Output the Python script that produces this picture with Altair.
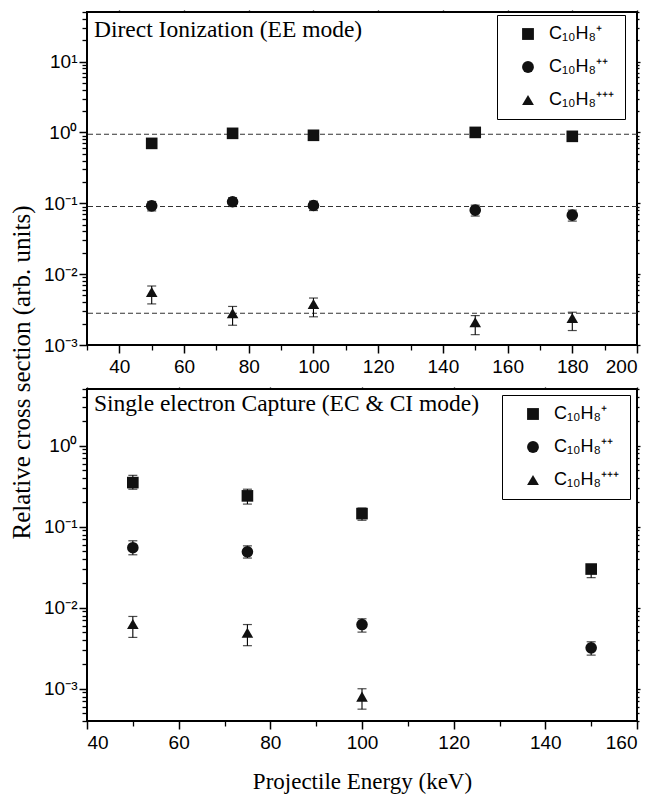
import altair as alt
import pandas as pd

SANS = "Liberation Sans"
SERIF = "Liberation Serif"

IONS = ["C₁₀H₈⁺", "C₁₀H₈⁺⁺", "C₁₀H₈⁺⁺⁺"]
SHAPES = ["square", "circle", "triangle-up"]

# ---------------- Direct Ionization (EE mode) ----------------
ee_energy = [50, 75, 100, 150, 180]
ee_single = [0.70, 0.97, 0.91, 1.00, 0.88]
ee_single_lo = [0.67, 0.93, 0.87, 0.96, 0.84]
ee_single_hi = [0.73, 1.01, 0.95, 1.04, 0.92]
ee_double = [0.092, 0.105, 0.093, 0.080, 0.068]
ee_double_lo = [0.078, 0.090, 0.079, 0.066, 0.056]
ee_double_hi = [0.106, 0.120, 0.107, 0.094, 0.080]
ee_triple = [0.0056, 0.0028, 0.0038, 0.0021, 0.0024]
ee_triple_lo = [0.0038, 0.0019, 0.0025, 0.0014, 0.0016]
ee_triple_hi = [0.0068, 0.0035, 0.0046, 0.0026, 0.0029]
ee_levels = [0.94, 0.09, 0.0028]

# ---------------- Single electron Capture (EC & CI mode) ----------------
ec_energy = [50, 75, 100, 150]
ec_single = [0.35, 0.24, 0.145, 0.030]
ec_single_lo = [0.29, 0.19, 0.12, 0.0235]
ec_single_hi = [0.43, 0.29, 0.17, 0.034]
ec_double = [0.055, 0.049, 0.0062, 0.0032]
ec_double_lo = [0.045, 0.041, 0.0050, 0.0026]
ec_double_hi = [0.067, 0.058, 0.0073, 0.0038]
ec_triple_energy = [50, 75, 100]
ec_triple = [0.0063, 0.0049, 0.00080]
ec_triple_lo = [0.0043, 0.0034, 0.00056]
ec_triple_hi = [0.0078, 0.0062, 0.0010]

top_x_major = [40, 60, 80, 100, 120, 140, 160, 180, 200]
top_x_minor = [30, 50, 70, 90, 110, 130, 150, 170, 190]
bot_x_major = [40, 60, 80, 100, 120, 140, 160]
bot_x_minor = [50, 70, 90, 110, 130, 150]
top_y_major = [1e-3, 1e-2, 1e-1, 1e0, 1e1]
bot_y_major = [1e-3, 1e-2, 1e-1, 1e0]


def log_minors(lo, hi):
    out = []
    for e in range(-5, 3):
        for k in range(2, 10):
            v = k * 10.0 ** e
            if lo * 0.999 <= v <= hi * 1.001:
                out.append(v)
    return out


def rows(energies, vals, los, his, ion):
    return [dict(energy=e, value=v, lo=l, hi=h, ion=ion)
            for e, v, l, h in zip(energies, vals, los, his)]


top_df = pd.DataFrame(
    rows(ee_energy, ee_single, ee_single_lo, ee_single_hi, IONS[0])
    + rows(ee_energy, ee_double, ee_double_lo, ee_double_hi, IONS[1])
    + rows(ee_energy, ee_triple, ee_triple_lo, ee_triple_hi, IONS[2])
)
bot_df = pd.DataFrame(
    rows(ec_energy, ec_single, ec_single_lo, ec_single_hi, IONS[0])
    + rows(ec_energy, ec_double, ec_double_lo, ec_double_hi, IONS[1])
    + rows(ec_triple_energy, ec_triple, ec_triple_lo, ec_triple_hi, IONS[2])
)
levels_df = pd.DataFrame({"level": ee_levels})

YLABEL = ("round(log(datum.value)/LN10) == 1 ? '10¹' : "
          "round(log(datum.value)/LN10) == 0 ? '10⁰' : "
          "round(log(datum.value)/LN10) == -1 ? '10⁻¹' : "
          "round(log(datum.value)/LN10) == -2 ? '10⁻²' : '10⁻³'")


def panel(df, xdom, ydom, xmaj, xmin, ymaj, label, label_y, legx, legy,
          height, xtitle, ytitle, levels=None):
    xs = alt.Scale(domain=xdom, nice=False, zero=False)
    ys = alt.Scale(type="log", domain=ydom, nice=False)
    ymin = log_minors(*ydom)
    base = alt.Chart(df)

    def inv(xaxis, yaxis):
        return base.mark_point(opacity=0).encode(
            x=alt.X("energy:Q", scale=xs, axis=xaxis),
            y=alt.Y("value:Q", scale=ys, axis=yaxis),
        )

    def ax(values, orient, size, **kw):
        return alt.Axis(values=values, orient=orient, tickSize=size, tickWidth=1.3,
                        tickColor="black", labels=False, domain=False, grid=False,
                        title=None, **kw)

    yaxis_kw = {"title": None}
    if ytitle:
        yaxis_kw = dict(title=ytitle, titleFont=SERIF, titleFontSize=25,
                        titleFontWeight="normal", titleColor="black",
                        titleAngle=270, titleX=-66, titleY=360,
                        titleAlign="center", titleBaseline="middle")
    xaxis_kw = {"title": None}
    if xtitle:
        xaxis_kw = dict(title=xtitle, titleFont=SERIF, titleFontSize=23,
                        titleFontWeight="normal", titleColor="black",
                        titlePadding=18)

    main_x = alt.Axis(values=xmaj, orient="bottom", tickSize=8, tickWidth=1.5,
                      tickColor="black", domain=False, grid=False,
                      labelFont=SANS, labelFontSize=19, labelColor="black",
                      labelPadding=4, format="d", **xaxis_kw)
    main_y = alt.Axis(values=ymaj, orient="left", tickSize=8, tickWidth=1.5,
                      tickColor="black", domain=False, grid=False,
                      labelFont=SANS, labelFontSize=19, labelColor="black",
                      labelPadding=2, labelExpr=YLABEL, **yaxis_kw)

    layers = []
    if levels is not None:
        layers.append(
            alt.Chart(levels).mark_rule(color="#333333", strokeDash=[5, 3],
                                        strokeWidth=1.1).encode(
                y=alt.Y("level:Q", scale=ys, axis=None))
        )
    layers.append(
        base.mark_rule(color="black", strokeWidth=1.1).encode(
            x=alt.X("energy:Q", scale=xs, axis=None),
            y=alt.Y("lo:Q", scale=ys, axis=None),
            y2="hi:Q")
    )
    for fld in ["lo", "hi"]:
        layers.append(
            base.mark_tick(orient="horizontal", color="black", size=9,
                           thickness=1.2).encode(
                x=alt.X("energy:Q", scale=xs, axis=None),
                y=alt.Y(f"{fld}:Q", scale=ys, axis=None))
        )
    layers.append(
        base.mark_point(filled=True, color="#111111", opacity=1, size=135).encode(
            x=alt.X("energy:Q", scale=xs, axis=main_x),
            y=alt.Y("value:Q", scale=ys, axis=main_y),
            shape=alt.Shape("ion:N", scale=alt.Scale(domain=IONS, range=SHAPES),
                            legend=alt.Legend(
                                orient="none", legendX=legx, legendY=legy,
                                title=None, labelFont=SANS, labelFontSize=18,
                                labelColor="black", symbolSize=140,
                                symbolFillColor="#111111",
                                symbolStrokeColor="#111111",
                                symbolStrokeWidth=0,
                                padding=10, rowPadding=15, symbolOffset=12,
                                labelOffset=12, strokeColor="black",
                                fillColor="white", cornerRadius=0)),
        )
    )
    layers.append(inv(ax(xmin, "bottom", 5), ax(ymin, "left", 5)))
    layers.append(inv(ax(xmaj, "top", 2), ax(ymaj, "right", 3)))
    layers.append(inv(ax(xmin, "top", 1.5), ax(ymin, "right", 2)))
    layers.append(
        alt.Chart(pd.DataFrame({"t": [label]})).mark_text(
            font=SERIF, fontSize=23.5, color="black", align="left",
            baseline="alphabetic").encode(
            text="t:N", x=alt.value(7), y=alt.value(label_y))
    )
    return alt.layer(*layers).resolve_axis(x="independent", y="independent") \
        .properties(width=550, height=height)


top = panel(top_df, [30, 200], [1e-3, 50], top_x_major, top_x_minor, top_y_major,
            "Direct Ionization (EE mode)", 25, 410, 3, 333, None,
            "Relative cross section (arb. units)", levels=levels_df)
bot = panel(bot_df, [40, 160], [4e-4, 5], bot_x_major, bot_x_minor, bot_y_major,
            "Single electron Capture (EC & CI mode)", 22, 415, 6, 332,
            "Projectile Energy (keV)", None)

chart = alt.vconcat(top, bot, spacing=44, bounds="flush").resolve_scale(
    shape="independent", x="independent", y="independent"
).resolve_legend(shape="independent").configure_view(
    stroke="black", strokeWidth=2).properties(
    padding={"left": 0, "top": 0, "right": 0, "bottom": 0},
    background="white",
)

chart.save("out.html", embed_options={"renderer": "svg", "actions": False})
